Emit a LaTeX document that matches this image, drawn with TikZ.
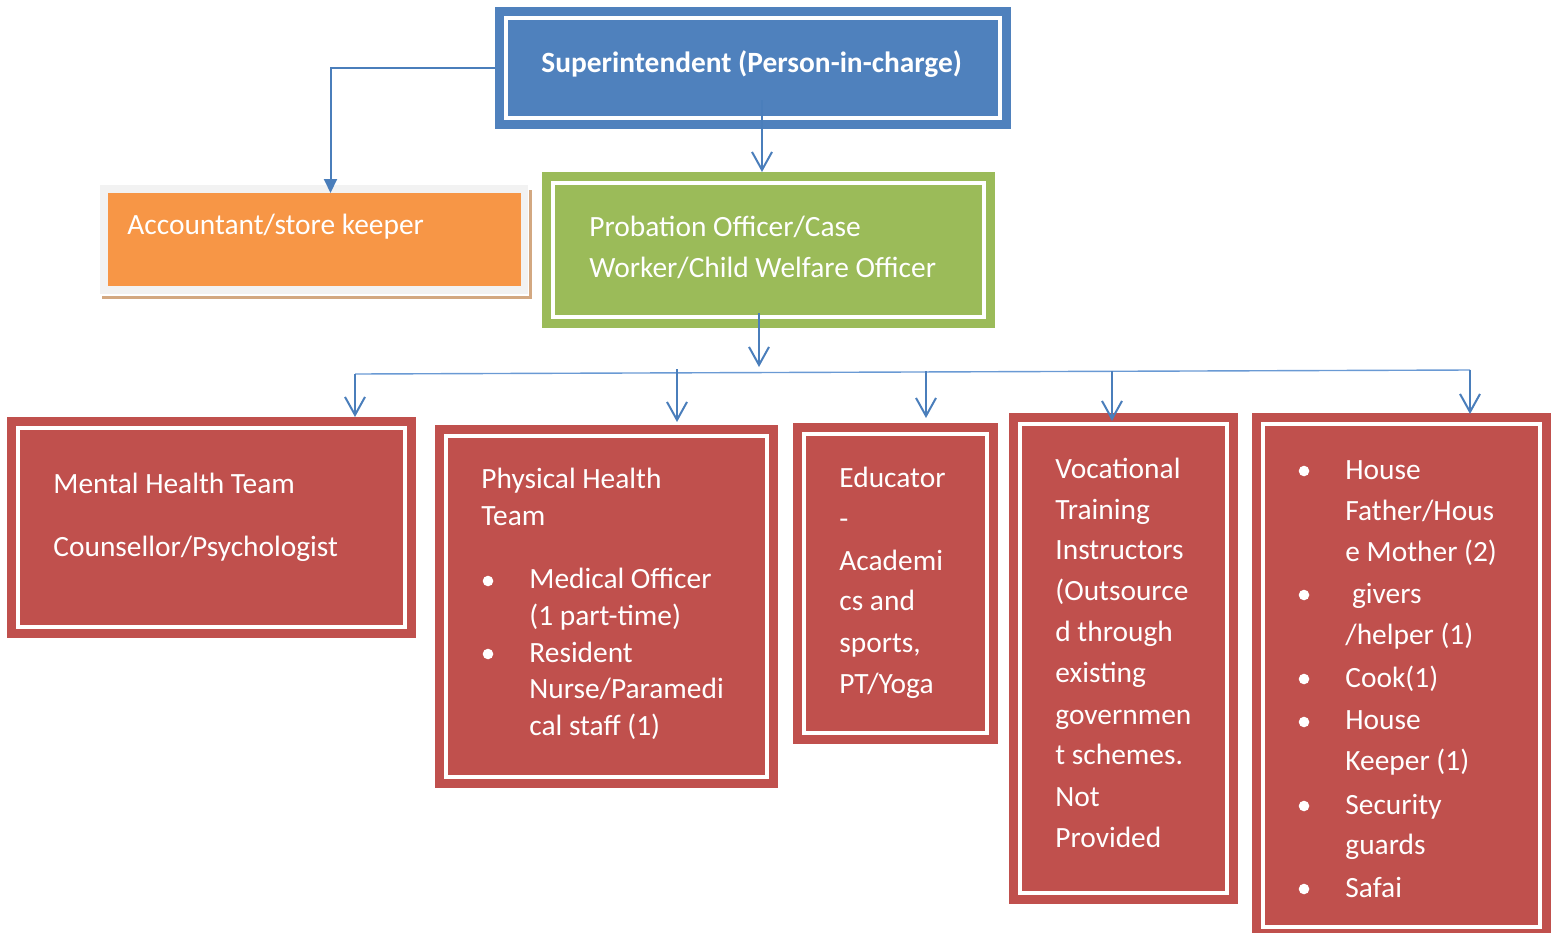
\documentclass[tikz,border=0pt]{standalone}
\usepackage{fontspec}
\setmainfont{Carlito}
\usetikzlibrary{arrows.meta,calc}
\definecolor{cblue}{HTML}{4F81BD}
\definecolor{cgreen}{HTML}{9BBB59}
\definecolor{corange}{HTML}{F79646}
\definecolor{cred}{HTML}{C0504D}
\definecolor{cgray}{HTML}{F2F2F2}
\definecolor{ctan}{HTML}{D3A881}
\definecolor{arrowblue}{HTML}{4A7EBB}
\definecolor{busblue}{HTML}{6A9AD4}
\tikzset{
  framebox/.style={fill=#1, draw=none, inner sep=0pt, outer sep=0pt, anchor=north west,
    path picture={\draw[white, line width=2pt]
      ([shift={(5.5pt,-5.5pt)}]path picture bounding box.north west) rectangle
      ([shift={(-5.5pt,5.5pt)}]path picture bounding box.south east);}},
  txt/.style={text=white, font=\fontsize{14.7}{17}\selectfont, anchor=base west, inner sep=0pt},
  bul/.style={circle, fill=white, draw=none, minimum size=5.3pt, inner sep=0pt},
  conn/.style={draw=arrowblue, line width=1pt},
  openarr/.style={-{Straight Barb[length=9pt,width=10pt]}},
  busline/.style={draw=busblue, line width=0.7pt}
}
\begin{document}
\begin{tikzpicture}[x=0.5pt,y=-0.5pt]
\useasboundingbox (0,0) rectangle (1556,932);

% boxes
\node[framebox=cblue, minimum width=258pt, minimum height=61pt] (sup) at (495,7) {};
\fill[ctan] (102,190) rectangle (532,299);
\fill[white] (99,184) rectangle (529,295.5);
\fill[cgray] (100,185) rectangle (528,294);
\node[fill=corange, draw=none, inner sep=0pt, outer sep=0pt, anchor=north west,
      minimum width=206.5pt, minimum height=46.5pt] (acc) at (108,193) {};
\node[framebox=cgreen, minimum width=226.5pt, minimum height=78pt] (prob) at (542,172) {};
\node[framebox=cred, minimum width=204.5pt, minimum height=110.5pt] (mh) at (7,417) {};
\node[framebox=cred, minimum width=171.5pt, minimum height=181.5pt] (ph) at (435,425) {};
\node[framebox=cred, minimum width=102.5pt, minimum height=160.5pt] (edu) at (793,423) {};
\node[framebox=cred, minimum width=114.5pt, minimum height=245.5pt] (voc) at (1009,413) {};
\node[framebox=cred, minimum width=149.5pt, minimum height=262.5pt] (hk) at (1252,413) {};

% texts
\node[txt, font=\fontsize{14.7}{17}\selectfont\bfseries] (suptxt) at (541,72) {Superintendent (Person-in-charge)};
\node[txt] (acctxt) at (127,234) {Accountant/store keeper};
\node[txt] (prob1) at (589,236) {Probation Officer/Case};
\node[txt] (prob2) at (589,277) {Worker/Child Welfare Officer};
\node[txt] (mh1) at (53,493) {Mental Health Team};
\node[txt] (mh2) at (53,556) {Counsellor/Psychologist};

\node[txt] (ph1) at (481,488) {Physical Health};
\node[txt] (ph2) at (481,525) {Team};
\node[txt] (ph3) at (529,588) {Medical Officer};
\node[txt] (ph4) at (529,625) {(1 part-time)};
\node[txt] (ph5) at (529,662) {Resident};
\node[txt] (ph6) at (529,698) {Nurse/Paramedi};
\node[txt] (ph7) at (529,735) {cal staff (1)};
\node[bul] (pb1) at (488,581) {};
\node[bul] (pb2) at (488,654) {};

\node[txt] (edu1) at (839,487) {Educator};
\node[txt] (edu2) at (839,528) {-};
\node[txt] (edu3) at (839,570) {Academi};
\node[txt] (edu4) at (839,610) {cs and};
\node[txt] (edu5) at (839,652) {sports,};
\node[txt] (edu6) at (839,693) {PT/Yoga};

\node[txt] (voc1) at (1055,478) {Vocational};
\node[txt] (voc2) at (1055,519) {Training};
\node[txt] (voc3) at (1055,559) {Instructors};
\node[txt] (voc4) at (1055,600) {(Outsource};
\node[txt] (voc5) at (1055,641) {d through};
\node[txt] (voc6) at (1055,682) {existing};
\node[txt] (voc7) at (1055,724) {governmen};
\node[txt] (voc8) at (1055,764) {t schemes.};
\node[txt] (voc9) at (1055,806) {Not};
\node[txt] (voc10) at (1055,847) {Provided};

\node[txt] (hk1) at (1345,479) {House};
\node[txt] (hk2) at (1345,520) {Father/Hous};
\node[txt] (hk3) at (1345,561) {e Mother (2)};
\node[txt] (hk4) at (1345,603) {\ givers};
\node[txt] (hk5) at (1345,644) {/helper (1)};
\node[txt] (hk6) at (1345,687) {Cook(1)};
\node[txt] (hk7) at (1345,729) {House};
\node[txt] (hk8) at (1345,770) {Keeper (1)};
\node[txt] (hk9) at (1345,814) {Security};
\node[txt] (hk10) at (1345,854) {guards};
\node[txt] (hk11) at (1345,897) {Safai};
\node[bul] (hb1) at (1304,471) {};
\node[bul] (hb2) at (1304,595) {};
\node[bul] (hb3) at (1304,679) {};
\node[bul] (hb4) at (1304,722) {};
\node[bul] (hb5) at (1304,806) {};
\node[bul] (hb6) at (1304,889) {};

% connectors
\coordinate (s1) at ($(sup.south)+(9,-29)$);
\coordinate (p1) at ($(prob.south)+(-9.5,-15)$);
\coordinate (busL) at (355,374);
\coordinate (busR) at (1470,370);
\coordinate (d2) at (677,369);
\coordinate (d3) at (926,371);
\coordinate (d4) at (1112,371);
\draw[conn, -{Triangle[length=7pt,width=6.5pt]}] (sup.west) -| ($(acc.north)+(16,0)$);
\draw[conn, openarr] (s1) -- (s1 |- prob.north);
\draw[conn, openarr] (p1) -- ($(p1 |- busL)+(0,-7)$);
\draw[busline] (busL) -- (busR);
\draw[conn, openarr] (busL) -- (busL |- mh.north);
\draw[conn, openarr] (d2) -- ($(d2 |- ph.north)+(0,-3)$);
\draw[conn, openarr] (d3) -- ($(d3 |- edu.north)+(0,-5)$);
\draw[conn, openarr] (d4) -- ($(d4 |- voc.north)+(0,8)$);
\draw[conn, openarr] (busR) -- ($(busR |- hk.north)+(0,1)$);
\end{tikzpicture}
\end{document}
